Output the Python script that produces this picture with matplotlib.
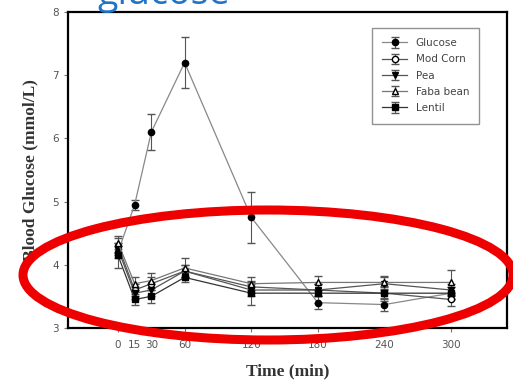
import matplotlib
matplotlib.use("Agg")
from matplotlib import pyplot as plt
from matplotlib.patches import Ellipse

times = [0, 15, 30, 60, 120, 180, 240, 300]
tick_labels = ["0", "15", "30", "60", "120", "180", "240", "300"]

glucose = [4.2, 4.95, 6.1, 7.2, 4.75, 3.4, 3.37, 3.55]
glucose_err = [0.1, 0.08, 0.28, 0.4, 0.4, 0.1, 0.1, 0.1]
mod_corn = [4.3, 3.6, 3.7, 3.9, 3.65, 3.6, 3.55, 3.45]
mod_corn_err = [0.12, 0.1, 0.1, 0.1, 0.1, 0.1, 0.1, 0.1]
pea = [4.25, 3.55, 3.6, 3.9, 3.6, 3.6, 3.7, 3.6]
pea_err = [0.1, 0.1, 0.1, 0.1, 0.1, 0.1, 0.1, 0.1]
faba = [4.35, 3.7, 3.75, 3.95, 3.7, 3.72, 3.72, 3.72]
faba_err = [0.1, 0.1, 0.12, 0.15, 0.1, 0.1, 0.1, 0.2]
lentil = [4.15, 3.45, 3.5, 3.8, 3.55, 3.55, 3.55, 3.55]
lentil_err = [0.2, 0.08, 0.1, 0.08, 0.18, 0.15, 0.12, 0.1]

series = [
    ("Glucose", glucose, glucose_err, "o", "black", "#888888"),
    ("Mod Corn", mod_corn, mod_corn_err, "o", "white", "#555555"),
    ("Pea", pea, pea_err, "v", "black", "#555555"),
    ("Faba bean", faba, faba_err, "^", "white", "#777777"),
    ("Lentil", lentil, lentil_err, "s", "black", "#333333"),
]

fig = plt.figure(figsize=(5.13, 3.89), dpi=100)
ax = fig.add_axes([0.1326, 0.157, 0.855, 0.812])

for name, vals, err, mk, face, lc in series:
    ax.errorbar(times, vals, yerr=err, label=name, marker=mk, markersize=4.5,
                markerfacecolor=face, markeredgecolor="black", color=lc,
                ecolor="#555555", elinewidth=0.8, capsize=3, linewidth=0.9)

ax.set_xlim(-45, 350)
ax.set_ylim(3, 8)
ax.set_xticks(times)
ax.set_xticklabels(tick_labels)
ax.set_yticks([3, 4, 5, 6, 7, 8])
ax.tick_params(labelsize=7.5, labelcolor="#555555", color="#777777", length=3)
ax.tick_params(axis="x", pad=6)
for s in ax.spines.values():
    s.set_linewidth(1.6)

ax.set_xlabel("Time (min)", family="Liberation Serif", fontweight="bold",
              fontsize=12.5, color="#333333", labelpad=9)
ax.set_ylabel("Blood Glucose (mmol/L)", family="Liberation Serif", fontweight="bold",
              fontsize=12.5, color="#333333", labelpad=10)

leg = ax.legend(loc="upper right", bbox_to_anchor=(0.95, 0.967), fontsize=7.5,
                frameon=True, fancybox=False, edgecolor="#777777",
                handlelength=2.4, borderpad=1.0, labelspacing=0.6)
for t in leg.get_texts():
    t.set_color("#444444")

fig.text(97 / 513, 1 - 4 / 389, "glucose", color="#1F73C8", fontsize=27,
         family="Open Sans", va="baseline", ha="left")

ring = Ellipse((2.68, 1.14), 4.9, 1.3, transform=fig.dpi_scale_trans,
               fill=False, edgecolor="#EE0000", linewidth=6.5, zorder=10)
fig.add_artist(ring)

fig.savefig("out.png", dpi=100)
